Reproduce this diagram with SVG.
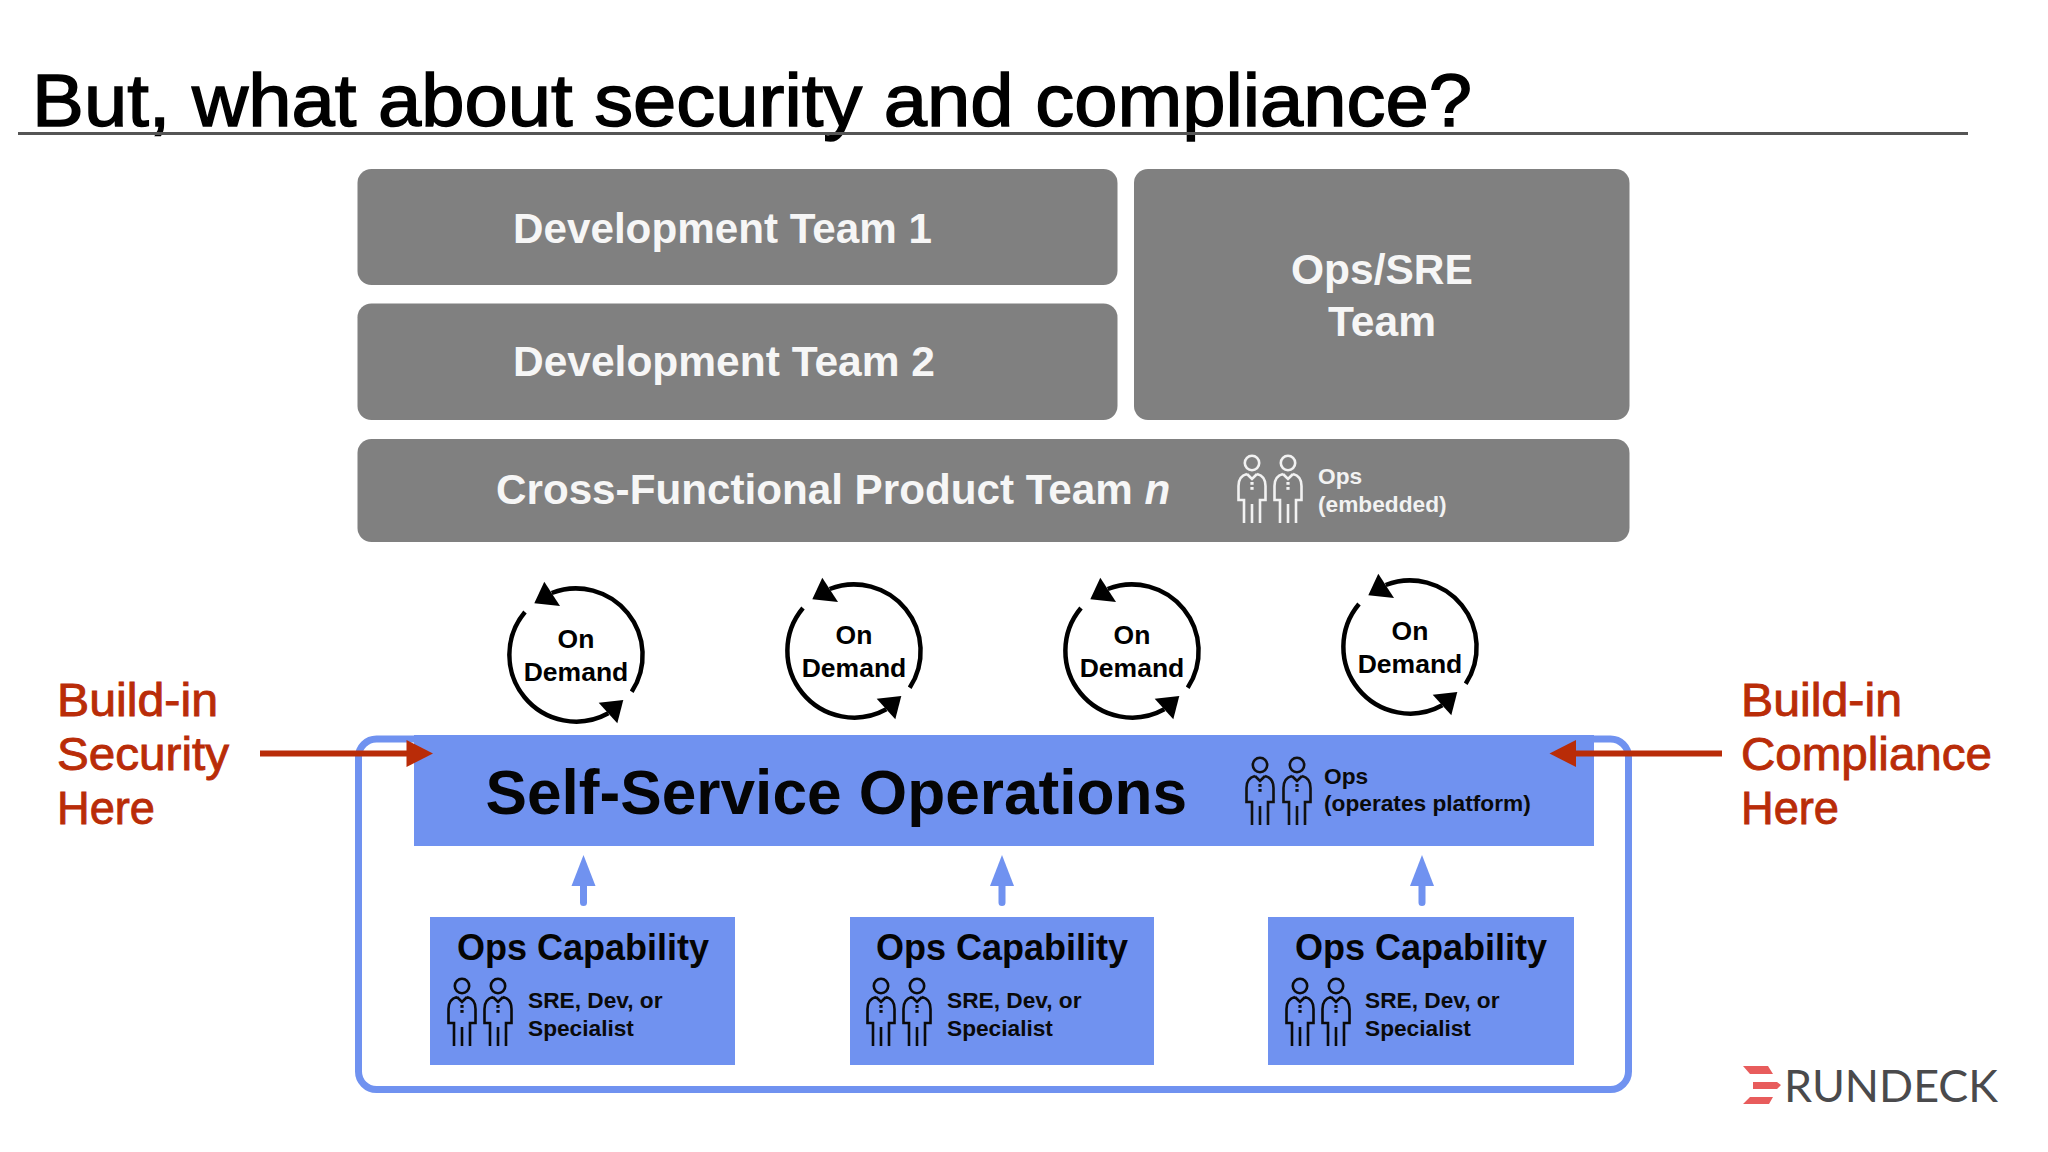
<svg xmlns="http://www.w3.org/2000/svg" width="2048" height="1152" viewBox="0 0 2048 1152">
<style>
text{font-family:"Liberation Sans",Arial,sans-serif}
.title{font-size:75px;fill:#000;stroke:#000;stroke-width:1.500}
.gray{fill:#808080}
.blue{fill:#7092f0}
.h42{font-size:42.500px;font-weight:700;fill:#f6f6f6}
.small{font-size:22.700px;font-weight:700}
.w{fill:#f2f2f2}
.k{fill:#0a0a0a}
.cap{font-size:36px;font-weight:700;fill:#050505;text-anchor:middle}
.od{font-size:26.500px;font-weight:700;fill:#000;text-anchor:middle}
.side{font-size:47px;fill:#b92c08;stroke:#b92c08;stroke-width:.9}
.red{stroke:#b92c08;stroke-width:6;fill:none}
.redh{fill:#b92c08}
.lg{fill:#e85c5c}
.p{fill:none;stroke-width:2.600}
.arc{fill:none;stroke:#000;stroke-width:4.500}
.up{stroke:#7092f0;stroke-width:7;stroke-linecap:round;fill:none}
</style>
<defs>
<g id="person">
<circle cx="0" cy="0" r="7.200" class="p"/>
<path class="p" d="M-5,11 Q-13.500,13 -13.500,23 V37 H-8 V60 M5,11 Q13.500,13 13.500,23 V37 H8 V60 M-5,11 L0,16 L5,11 M0,41 V60"/>
<rect x="-1.600" y="19" width="3.200" height="2.800" stroke="none" fill="currentColor"/>
<rect x="-1.600" y="24" width="3.200" height="2.800" stroke="none" fill="currentColor"/>
</g>
<g id="loop">
<path class="arc" d="M55.700,36.700 A66.700,66.700 0 0 0 -24.300,-62"/>
<path d="M-31.700,-73.300 L-41.700,-51.700 L-16,-49 Z" fill="#000"/>
<path class="arc" d="M-51,-43 A66.700,66.700 0 0 0 32.300,58.300"/>
<path d="M47.300,45 L22.700,47.700 L41.300,68.300 Z" fill="#000"/>
<text class="od" x="0" y="-7">On</text>
<text class="od" x="0" y="26">Demand</text>
</g>
</defs>
<rect width="2048" height="1152" fill="#fff"/>
<g id="title">
<text class="title" x="32" y="126" textLength="1440" lengthAdjust="spacingAndGlyphs">But, what about security and compliance?</text>
<rect x="18" y="132" width="1950" height="3" fill="#555"/>
</g>
<g id="dev-team-1"><rect class="gray" x="357.500" y="169" width="760" height="116" rx="14"/><text class="h42" x="513" y="242.500" textLength="419" lengthAdjust="spacingAndGlyphs">Development Team 1</text></g>
<g id="dev-team-2"><rect class="gray" x="357.500" y="303.500" width="760" height="116.500" rx="14"/><text class="h42" x="513" y="376">Development Team 2</text></g>
<g id="ops-sre-team"><rect class="gray" x="1134" y="169" width="495.500" height="251" rx="14"/><text class="h42" x="1382" y="283.500" text-anchor="middle">Ops/SRE</text><text class="h42" x="1382" y="335.500" text-anchor="middle">Team</text></g>
<g id="cross-functional-team"><rect class="gray" x="357.500" y="439" width="1272" height="103" rx="14"/>
<text class="h42" x="496" y="504" style="font-size:42.200px">Cross-Functional Product Team <tspan font-style="italic">n</tspan></text>
<g stroke="#f2f2f2" color="#f2f2f2"><use href="#person" x="1252" y="463"/><use href="#person" x="1288" y="463"/></g>
<text class="small w" x="1318" y="484">Ops</text><text class="small w" x="1318" y="512">(embedded)</text></g>
<g id="on-demand-1"><use href="#loop" x="576" y="655"/></g>
<g id="on-demand-2"><use href="#loop" x="854" y="651"/></g>
<g id="on-demand-3"><use href="#loop" x="1132" y="651"/></g>
<g id="on-demand-4"><use href="#loop" x="1410" y="647"/></g>
<g id="platform-frame"><rect x="358.500" y="739" width="1270" height="350.500" rx="18" fill="none" stroke="#7092f0" stroke-width="7"/></g>
<g id="self-service"><rect class="blue" x="414" y="735" width="1180" height="111"/>
<text x="485.500" y="814" font-size="62.200" font-weight="700" fill="#050505">Self-Service Operations</text>
<g stroke="#111" color="#111"><use href="#person" x="1260" y="765"/><use href="#person" x="1297" y="765"/></g>
<text class="small k" x="1324" y="784">Ops</text><text class="small k" x="1324" y="811">(operates platform)</text></g>
<g id="ops-capability-1"><rect class="blue" x="430" y="917" width="305" height="148"/><text class="cap" x="583" y="959.500">Ops Capability</text>
<g stroke="#0a0a0a" color="#0a0a0a"><use href="#person" x="462" y="986"/><use href="#person" x="498" y="986"/></g>
<text class="small k" x="528" y="1008">SRE, Dev, or</text><text class="small k" x="528" y="1036">Specialist</text></g>
<g id="ops-capability-2"><rect class="blue" x="850" y="917" width="304" height="148"/><text class="cap" x="1002" y="959.500">Ops Capability</text>
<g stroke="#0a0a0a" color="#0a0a0a"><use href="#person" x="881" y="986"/><use href="#person" x="917" y="986"/></g>
<text class="small k" x="947" y="1008">SRE, Dev, or</text><text class="small k" x="947" y="1036">Specialist</text></g>
<g id="ops-capability-3"><rect class="blue" x="1268" y="917" width="306" height="148"/><text class="cap" x="1421" y="959.500">Ops Capability</text>
<g stroke="#0a0a0a" color="#0a0a0a"><use href="#person" x="1300" y="986"/><use href="#person" x="1336" y="986"/></g>
<text class="small k" x="1365" y="1008">SRE, Dev, or</text><text class="small k" x="1365" y="1036">Specialist</text></g>
<g id="label-security"><text class="side" x="57" y="716" textLength="161" lengthAdjust="spacingAndGlyphs">Build-in</text><text class="side" x="57" y="770" textLength="172" lengthAdjust="spacingAndGlyphs">Security</text><text class="side" x="57" y="824" textLength="98" lengthAdjust="spacingAndGlyphs">Here</text></g>
<g id="label-compliance"><text class="side" x="1741" y="716" textLength="161" lengthAdjust="spacingAndGlyphs">Build-in</text><text class="side" x="1741" y="770" textLength="251" lengthAdjust="spacingAndGlyphs">Compliance</text><text class="side" x="1741" y="824" textLength="98" lengthAdjust="spacingAndGlyphs">Here</text></g>
<g id="connectors">
<path class="red" d="M260,753.500 H410"/><path class="redh" d="M433,753.500 L406.500,740 V767 Z"/>
<path class="red" d="M1722,753.500 H1572"/><path class="redh" d="M1549.500,753.500 L1576,740 V767 Z"/>
<g class="blue">
<path d="M583.500,855 L571.500,886 H595.500 Z"/><path d="M1002,855 L990,886 H1014 Z"/><path d="M1422,855 L1410,886 H1434 Z"/>
</g>
<path class="up" d="M583.500,884 V902.500 M1002,884 V902.500 M1422,884 V902.500"/>
</g>
<g id="rundeck-logo">
<path class="lg" d="M1743,1066 H1768 L1773,1074 H1750 Z M1753,1082 H1777 L1781,1085 L1777,1089 H1753 Z M1743,1104 H1769 L1773,1097 H1750 Z"/>
<text x="1784" y="1102" font-size="45" fill="#4a4a4c" style="font-family:Lato,sans-serif" textLength="214" lengthAdjust="spacingAndGlyphs">RUNDECK</text>
</g>
</svg>
